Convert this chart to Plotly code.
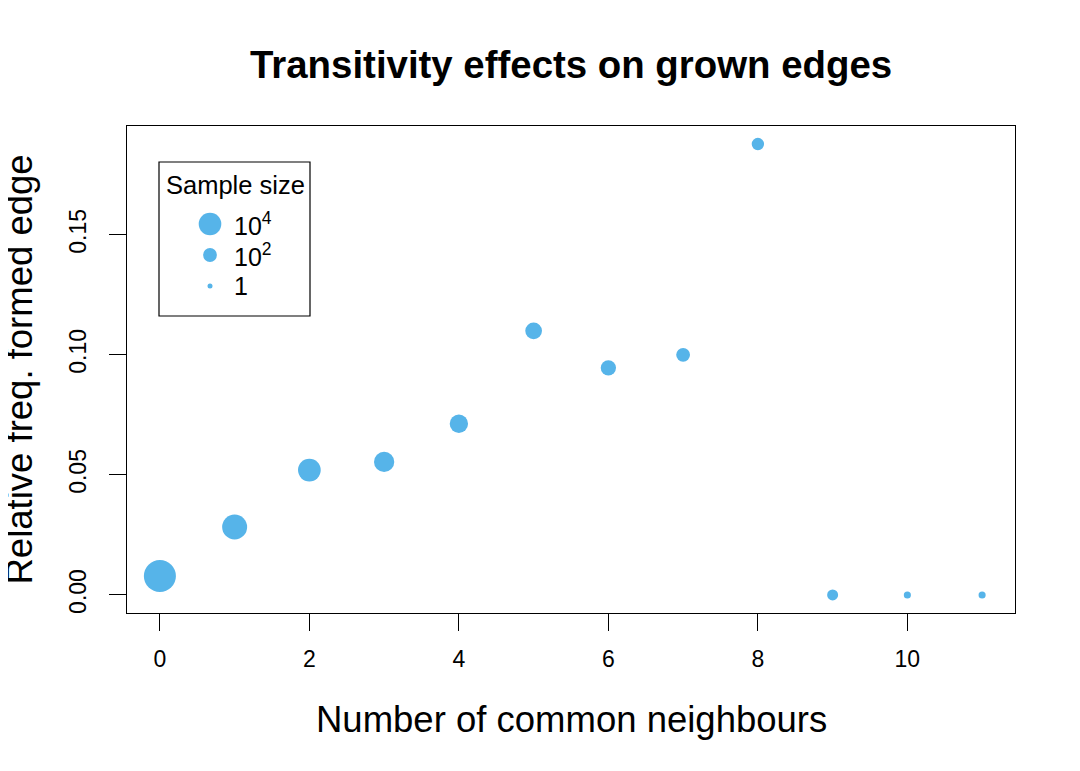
import numpy as np
import plotly.graph_objects as go

# data
common_nb = [0, 1, 2, 3, 4, 5, 6, 7, 8, 9, 10, 11]
rel_freq = [0.0079, 0.0283, 0.052, 0.0554, 0.0713, 0.110, 0.0946, 0.100, 0.1878, 0.0, 0.0, 0.0]
sample_n = [1.4e6, 3.5e4, 1.05e4, 3000, 1050, 455, 220, 100, 48, 23, 3, 3]

legend_n = [1e4, 1e2, 1]
legend_lab = ["10<sup>4</sup>", "10<sup>2</sup>", "1"]

x_ticks = [0, 2, 4, 6, 8, 10]
y_ticks = [0.0, 0.05, 0.10, 0.15]

colour = "#56B4E9"
font = "Liberation Sans, Arial, Helvetica, sans-serif"

W, H = 1080, 771
OFF = 8  # page body margin shifts the figure
L, R, T, B = 127 - OFF, 65 + OFF, 126 - OFF, 158 + OFF


def dot_size(n):
    return 5 + 4.4 * np.log10(np.asarray(n, dtype=float))


def r_range(v):
    lo, hi = min(v), max(v)
    pad = 0.04 * (hi - lo)
    return [lo - pad, hi + pad]


fig = go.Figure()

fig.add_trace(go.Scatter(
    x=common_nb, y=rel_freq, mode="markers",
    marker=dict(size=dot_size(sample_n), color=colour, opacity=1, line=dict(width=0)),
    showlegend=False,
))

# legend drawn on a pixel-scaled overlay axis (reference pixel coords)
leg_x = 210
leg_y = [224 + 31 * i for i in range(len(legend_n))]
fig.add_trace(go.Scatter(
    x=[leg_x] * len(legend_n), y=leg_y, mode="markers",
    marker=dict(size=dot_size(legend_n), color=colour, opacity=1, line=dict(width=0)),
    xaxis="x2", yaxis="y2", showlegend=False, hoverinfo="skip",
))

axis_common = dict(
    showgrid=False, zeroline=False, showline=True, mirror=True,
    linecolor="black", linewidth=1.2, ticks="outside", ticklen=17,
    tickwidth=1.2, tickcolor="black",
    tickfont=dict(family=font, size=23, color="black"),
)

fig.update_layout(
    width=W, height=H,
    margin=dict(l=L, r=R, t=T, b=B),
    paper_bgcolor="white", plot_bgcolor="white",
    font=dict(family=font, color="black"),
    xaxis=dict(range=r_range(common_nb), tickvals=x_ticks, ticklabelstandoff=8,
               **axis_common),
    yaxis=dict(range=r_range(rel_freq), tickvals=y_ticks, tickformat=".2f",
               tickangle=-90, ticklabelstandoff=14, **axis_common),
    xaxis2=dict(range=[127, 1015], overlaying="x", visible=False, fixedrange=True),
    yaxis2=dict(range=[613, 126], overlaying="y", visible=False, fixedrange=True),
)


def px_x(p):
    return (p - 127) / (1015 - 127)


def px_y(p):
    return (613 - p) / (613 - 126)


# legend frame
fig.add_shape(type="rect", xref="paper", yref="paper",
              x0=px_x(159), x1=px_x(310), y0=px_y(316), y1=px_y(162),
              line=dict(color="black", width=1.2), fillcolor="rgba(0,0,0,0)")
fig.add_annotation(x=px_x(235), y=px_y(185), xref="paper", yref="paper",
                   text="Sample size", showarrow=False,
                   font=dict(size=25.5), xanchor="center", yanchor="middle")
for lab, yy in zip(legend_lab, leg_y):
    fig.add_annotation(x=px_x(232), y=px_y(yy), xref="paper", yref="paper",
                       text=lab, showarrow=False, font=dict(size=25),
                       xanchor="left", yanchor="middle")

# titles
fig.add_annotation(x=0.5, y=px_y(64), xref="paper", yref="paper",
                   text="<b>Transitivity effects on grown edges</b>",
                   showarrow=False, font=dict(size=38.4),
                   xanchor="center", yanchor="middle")
fig.add_annotation(x=0.5, y=px_y(719), xref="paper", yref="paper",
                   text="Number of common neighbours", showarrow=False,
                   font=dict(size=36.5), xanchor="center", yanchor="middle")
fig.add_annotation(x=px_x(19), y=0.5, xref="paper", yref="paper",
                   text="Relative freq. formed edge", showarrow=False,
                   font=dict(size=36.5), textangle=-90,
                   xanchor="center", yanchor="middle")

fig.write_html("out.html")
